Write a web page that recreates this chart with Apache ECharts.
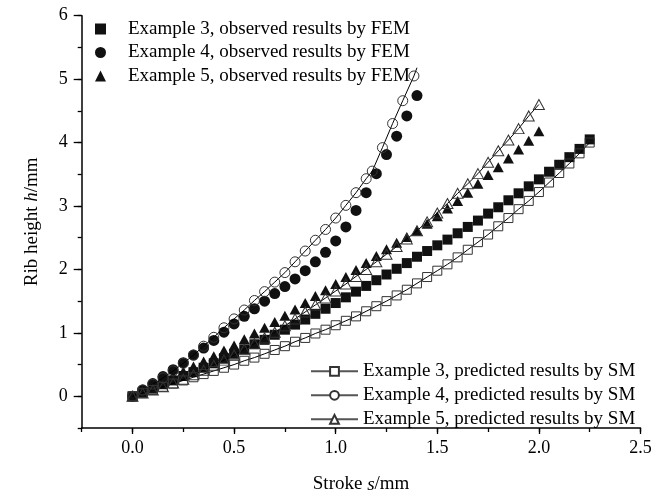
<!DOCTYPE html>
<html><head><meta charset="utf-8">
<script src="https://cdn.jsdelivr.net/npm/echarts@6/dist/echarts.min.js"></script>
<style>html,body{margin:0;padding:0;background:#fff}#c{width:664px;height:499px}</style>
</head><body><div id="c"></div>
<script>
// ---- data (stroke s in mm, rib height h in mm) ----
const stroke3 = [0,0.05,0.1,0.15,0.2,0.25,0.3,0.35,0.4,0.45,0.5,0.55,0.6,0.65,0.7,0.75,0.8,0.85,0.9,0.95,1.0,1.05,1.1,1.15,1.2,1.25,1.3,1.35,1.4,1.45,1.5,1.55,1.6,1.65,1.7,1.75,1.8,1.85,1.9,1.95,2.0,2.05,2.1,2.15,2.2,2.25];
const h3Obs = [0,0.06,0.12,0.19,0.25,0.32,0.38,0.45,0.52,0.60,0.67,0.74,0.82,0.89,0.97,1.05,1.13,1.21,1.30,1.38,1.47,1.56,1.65,1.74,1.83,1.92,2.01,2.10,2.20,2.29,2.38,2.47,2.57,2.67,2.77,2.88,2.98,3.09,3.20,3.31,3.42,3.54,3.65,3.77,3.90,4.05];
const h3Pred = [0,0.05,0.10,0.15,0.20,0.25,0.30,0.35,0.40,0.45,0.50,0.56,0.61,0.67,0.73,0.79,0.86,0.92,0.99,1.05,1.12,1.19,1.26,1.34,1.42,1.50,1.59,1.68,1.78,1.88,1.98,2.08,2.19,2.31,2.43,2.55,2.68,2.81,2.95,3.08,3.22,3.37,3.52,3.67,3.83,4.00];

const stroke4 = [0,0.05,0.1,0.15,0.2,0.25,0.3,0.35,0.4,0.45,0.5,0.55,0.6,0.65,0.7,0.75,0.8,0.85,0.9,0.95,1.0,1.05,1.1,1.15,1.2,1.25,1.3,1.35,1.4];
const h4Obs = [0,0.10,0.20,0.31,0.42,0.53,0.65,0.76,0.88,1.01,1.14,1.26,1.38,1.50,1.62,1.73,1.85,1.98,2.12,2.27,2.45,2.67,2.93,3.21,3.51,3.81,4.10,4.42,4.74];
const stroke4Pred = [0,0.05,0.1,0.15,0.2,0.25,0.3,0.35,0.4,0.45,0.5,0.55,0.6,0.65,0.7,0.75,0.8,0.85,0.9,0.95,1.0,1.05,1.1,1.15,1.18,1.23,1.28,1.33,1.385,1.40];
const h4Pred = [0,0.10,0.19,0.29,0.40,0.52,0.65,0.79,0.93,1.08,1.22,1.36,1.51,1.65,1.80,1.95,2.12,2.29,2.46,2.63,2.81,3.01,3.21,3.43,3.55,3.92,4.30,4.66,5.05,5.18];

const stroke5 = [0,0.05,0.1,0.15,0.2,0.25,0.3,0.35,0.4,0.45,0.5,0.55,0.6,0.65,0.7,0.75,0.8,0.85,0.9,0.95,1.0,1.05,1.1,1.15,1.2,1.25,1.3,1.35,1.4,1.45,1.5,1.55,1.6,1.65,1.7,1.75,1.8,1.85,1.9,1.95,2.0];
const h5Obs = [0,0.08,0.16,0.24,0.32,0.39,0.47,0.55,0.63,0.72,0.80,0.90,0.99,1.08,1.17,1.27,1.37,1.47,1.58,1.67,1.77,1.88,1.99,2.10,2.21,2.32,2.42,2.51,2.61,2.72,2.84,2.96,3.08,3.21,3.35,3.49,3.61,3.75,3.89,4.03,4.18];
const h5Pred = [0,0.05,0.10,0.15,0.21,0.27,0.34,0.41,0.49,0.57,0.65,0.74,0.83,0.92,1.01,1.11,1.22,1.33,1.44,1.55,1.66,1.77,1.89,2.00,2.12,2.24,2.36,2.48,2.61,2.75,2.89,3.04,3.20,3.35,3.51,3.69,3.87,4.04,4.22,4.42,4.60];

const obsNames = ['Example 3, observed results by FEM','Example 4, observed results by FEM','Example 5, observed results by FEM'];
const predNames = ['Example 3, predicted results by SM','Example 4, predicted results by SM','Example 5, predicted results by SM'];
const xMajor = [0, 0.5, 1.0, 1.5, 2.0, 2.5];
const yMajor = [0, 1, 2, 3, 4, 5, 6];

// ---- chart ----
const FONT = 'Liberation Serif';
const pair = (xs, ys) => xs.map((x, i) => [x, ys[i]]);
const pred4Data = pair(stroke4Pred, h4Pred).map((p, i, arr) => i === arr.length - 1 ? {value: p, symbol: 'none'} : p);

const chart = echarts.init(document.getElementById('c'), null, {renderer: 'canvas'});
const txt = {fontFamily: FONT, fontSize: 19, color: '#000'};
const openStyle = {color: 'rgba(0,0,0,0)', borderColor: '#333', borderWidth: 1, opacity: 1};
const fillStyle = {color: '#111', opacity: 1};
const rich = {i: Object.assign({}, txt, {fontStyle: 'italic'})};

chart.setOption({
  animation: false,
  backgroundColor: '#fff',
  grid: {left: 81.7, right: 23.5, top: 15.7, bottom: 65.7},
  xAxis: [
    {type: 'value', min: -0.25, max: 2.5, interval: 0.25, position: 'bottom',
     axisLine: {show: true, onZero: false, lineStyle: {color: '#000', width: 1.5}},
     axisTick: {show: true, length: 4, lineStyle: {color: '#000', width: 1.3}},
     axisLabel: {show: false}, splitLine: {show: false},
     name: 'Stroke {i|s}/mm', nameLocation: 'middle', nameGap: 47,
     nameTextStyle: Object.assign({}, txt, {rich})},
    {type: 'value', min: -0.25, max: 2.5, position: 'bottom', offset: 0,
     axisLine: {show: false, onZero: false},
     axisTick: {show: true, length: 6, customValues: xMajor, lineStyle: {color: '#000', width: 1.3}},
     axisLabel: Object.assign({}, txt, {fontSize: 18, margin: 11, customValues: xMajor,
       formatter: v => v.toFixed(1)}),
     splitLine: {show: false}}
  ],
  yAxis: [
    {type: 'value', min: -0.5, max: 6, interval: 0.5, position: 'left',
     axisLine: {show: true, onZero: false, lineStyle: {color: '#000', width: 1.5}},
     axisTick: {show: true, length: 4, lineStyle: {color: '#000', width: 1.3}},
     axisLabel: {show: false}, splitLine: {show: false},
     name: 'Rib height {i|h}/mm', nameLocation: 'middle', nameGap: 40,
     nameTextStyle: Object.assign({}, txt, {rich})},
    {type: 'value', min: -0.5, max: 6, position: 'left', offset: 0,
     axisLine: {show: false, onZero: false},
     axisTick: {show: true, length: 8, customValues: yMajor, lineStyle: {color: '#000', width: 1.3}},
     axisLabel: Object.assign({}, txt, {fontSize: 18, margin: 14, customValues: yMajor,
       formatter: v => String(v)}),
     splitLine: {show: false}}
  ],
  legend: [
    {left: 95, top: 19.5, orient: 'vertical', padding: 0, itemWidth: 11, itemHeight: 11, itemGap: 4.5,
     textStyle: Object.assign({}, txt, {padding: [0, 0, 0, 17]}), data: obsNames, selectedMode: false},
    {left: 310, top: 361.8, orient: 'vertical', padding: 0, itemWidth: 47, itemHeight: 11, itemGap: 5,
     itemStyle: {color: '#fff'}, lineStyle: {color: '#555'},
     textStyle: txt, data: predNames, selectedMode: false}
  ],
  series: [
    {name: obsNames[0], type: 'scatter', symbol: 'rect', symbolSize: 10,
     itemStyle: fillStyle, data: pair(stroke3, h3Obs)},
    {name: obsNames[1], type: 'scatter', symbol: 'circle', symbolSize: 11,
     itemStyle: fillStyle, data: pair(stroke4, h4Obs)},
    {name: obsNames[2], type: 'scatter', symbol: 'triangle', symbolSize: [11, 10],
     itemStyle: fillStyle, data: pair(stroke5, h5Obs)},
    {name: predNames[0], type: 'line', symbol: 'rect', symbolSize: 9, showSymbol: true,
     itemStyle: openStyle, lineStyle: {color: '#000', width: 1}, data: pair(stroke3, h3Pred)},
    {name: predNames[1], type: 'line', symbol: 'circle', symbolSize: 10, showSymbol: true,
     itemStyle: openStyle, lineStyle: {color: '#000', width: 1}, data: pred4Data},
    {name: predNames[2], type: 'line', symbol: 'triangle', symbolSize: [11, 10], showSymbol: true,
     itemStyle: openStyle, lineStyle: {color: '#000', width: 1}, data: pair(stroke5, h5Pred)}
  ]
});
</script></body></html>
